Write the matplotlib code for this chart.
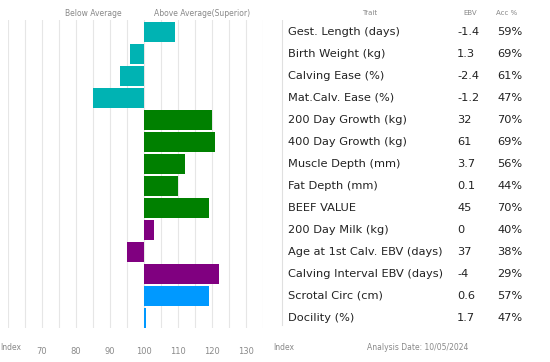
import numpy as np
import matplotlib.pyplot as plt

traits = ['Gest. Length (days)', 'Birth Weight (kg)', 'Calving Ease (%)', 'Mat.Calv. Ease (%)',
          '200 Day Growth (kg)', '400 Day Growth (kg)', 'Muscle Depth (mm)', 'Fat Depth (mm)',
          'BEEF VALUE', '200 Day Milk (kg)', 'Age at 1st Calv. EBV (days)',
          'Calving Interval EBV (days)', 'Scrotal Circ (cm)', 'Docility (%)']
ebv = ['-1.4', '1.3', '-2.4', '-1.2', '32', '61', '3.7', '0.1', '45', '0', '37', '-4', '0.6', '1.7']
acc = ['59%', '69%', '61%', '47%', '70%', '69%', '56%', '44%', '70%', '40%', '38%', '29%', '57%', '47%']
index = [109, 96, 93, 85, 120, 121, 112, 110, 119, 103, 95, 122, 119, 100.5]
colors = ['#00b3b3'] * 4 + ['#008000'] * 5 + ['#800080'] * 3 + ['#0099ff'] * 2
ticks = [70, 80, 90, 100, 110, 120, 130]

W, H = 550, 362
fig = plt.figure(figsize=(5.5, 3.62), dpi=100)
plt.rcParams['font.family'] = 'DejaVu Sans'

n = len(traits)
y = np.arange(n)
pitch = (318 - 32) / (n - 1)
top = -(32 - 20) / pitch
bot = (n - 1) + (328 - 318) / pitch

# bar chart part
ax = fig.add_axes([8 / W, 1 - 328 / H, (263 - 8) / W, 308 / H])
ax.barh(y, np.array(index) - 100, left=100, height=0.89, color=colors, zorder=2)
ax.set_xlim(60, 135)
ax.set_ylim(bot, top)
ax.set_xticks(np.arange(60, 136, 5), minor=True)
ax.set_xticks(ticks)
ax.set_xticklabels([str(t) for t in ticks], fontsize=6, color='#8a8a8a')
ax.tick_params(axis='x', which='both', length=0, pad=14)
ax.grid(axis='x', which='both', color='#e6e6e6', linewidth=0.8, zorder=0)
ax.set_yticks([])
for s in ax.spines.values():
    s.set_visible(False)

# table part
ax2 = fig.add_axes([281 / W, 1 - 328 / H, (W - 281) / W, 308 / H])
ax2.set_xlim(281, W)
ax2.set_ylim(bot, top)
ax2.axis('off')
ax2.axvline(281.5, ymin=0.01, ymax=1, color='#e0e0e0', linewidth=0.8)
for i in range(n):
    ax2.text(288, y[i], traits[i], fontsize=8.2, va='center', ha='left', color='#222222')
    ax2.text(457, y[i], ebv[i], fontsize=8.2, va='center', ha='left', color='#222222')
    ax2.text(497, y[i], acc[i], fontsize=8.2, va='center', ha='left', color='#222222')

hc = '#888888'
fig.text(93 / W, 1 - 13 / H, 'Below Average', fontsize=5.5, ha='center', va='center', color=hc)
fig.text(202 / W, 1 - 13 / H, 'Above Average(Superior)', fontsize=5.5, ha='center', va='center', color=hc)
fig.text(370 / W, 1 - 13 / H, 'Trait', fontsize=5, ha='center', va='center', color=hc)
fig.text(470 / W, 1 - 13 / H, 'EBV', fontsize=5, ha='center', va='center', color=hc)
fig.text(507 / W, 1 - 13 / H, 'Acc %', fontsize=5, ha='center', va='center', color=hc)
fig.text(0 / W, 1 - 348 / H, 'Index', fontsize=5.5, ha='left', va='center', color=hc)
fig.text(273 / W, 1 - 348 / H, 'Index', fontsize=5.5, ha='left', va='center', color=hc)
fig.text(418 / W, 1 - 348 / H, 'Analysis Date: 10/05/2024', fontsize=5.5, ha='center', va='center', color=hc)

fig.savefig('out.png', dpi=100)
